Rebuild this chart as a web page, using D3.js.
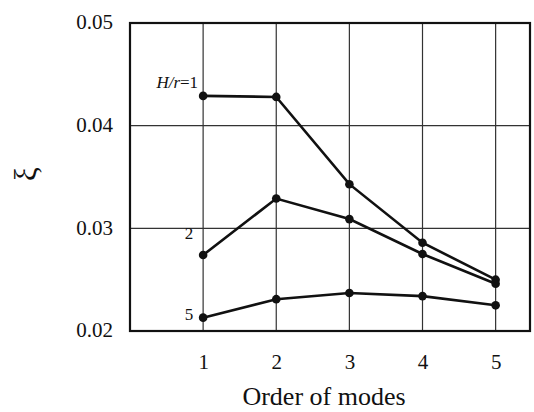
<!DOCTYPE html>
<html>
<head>
<meta charset="utf-8">
<script src="https://cdn.jsdelivr.net/npm/d3@7"></script>
<style>
  body { margin: 0; background: #fff; }
  text { font-family: "Liberation Serif", "Times New Roman", serif; fill: #111; }
</style>
</head>
<body>
<svg id="chart" width="534" height="412"></svg>
<script>
// modes on the x axis
var modes = [1, 2, 3, 4, 5];
// damping ratio for each H/r
var dampHr1 = [0.0429, 0.0428, 0.0343, 0.0286, 0.0250];
var dampHr2 = [0.0274, 0.0329, 0.0309, 0.0275, 0.0246];
var dampHr5 = [0.0213, 0.0231, 0.0237, 0.0234, 0.0225];
var seriesLabels = ["H/r=1", "2", "5"];
var yTicks = [0.02, 0.03, 0.04, 0.05];

var svg = d3.select("#chart");
var mLeft = 130, mRight = 530, mTop = 23, mBottom = 331;

var x = d3.scaleLinear().domain([0, 5.47]).range([mLeft, mRight]);
var y = d3.scaleLinear().domain([0.02, 0.05]).range([mBottom, mTop]);

// grid
svg.append("g").selectAll("line").data(modes).enter().append("line")
    .attr("x1", function (d) { return x(d); }).attr("x2", function (d) { return x(d); })
    .attr("y1", mTop).attr("y2", mBottom)
    .attr("stroke", "#333").attr("stroke-width", 1.2);
svg.append("g").selectAll("line").data(yTicks.slice(1, 3)).enter().append("line")
    .attr("x1", mLeft).attr("x2", mRight)
    .attr("y1", function (d) { return y(d); }).attr("y2", function (d) { return y(d); })
    .attr("stroke", "#333").attr("stroke-width", 1.2);

// frame
svg.append("rect")
    .attr("x", mLeft).attr("y", mTop)
    .attr("width", mRight - mLeft).attr("height", mBottom - mTop)
    .attr("fill", "none").attr("stroke", "#111").attr("stroke-width", 2.2);

// axes (labels only, lines drawn by the frame)
var yAxis = d3.axisLeft(y).tickValues(yTicks).tickSize(0).tickPadding(17)
    .tickFormat(d3.format(".2f"));
var gy = svg.append("g").attr("transform", "translate(" + mLeft + ",0)").call(yAxis);
gy.select(".domain").remove();
gy.selectAll("text").style("font-size", "21px").style("font-family", "Liberation Serif")
    .attr("dy", "0.28em");

var xAxis = d3.axisBottom(x).tickValues(modes).tickSize(0).tickPadding(23)
    .tickFormat(d3.format("d"));
var gx = svg.append("g").attr("transform", "translate(0," + mBottom + ")").call(xAxis);
gx.select(".domain").remove();
gx.selectAll("text").style("font-size", "21px").style("font-family", "Liberation Serif");

// lines + points
var line = d3.line()
    .x(function (d, i) { return x(modes[i]); })
    .y(function (d) { return y(d); });

[dampHr1, dampHr2, dampHr5].forEach(function (s) {
    svg.append("path").datum(s).attr("d", line)
        .attr("fill", "none").attr("stroke", "#111").attr("stroke-width", 2.6);
    svg.append("g").selectAll("circle").data(s).enter().append("circle")
        .attr("cx", function (d, i) { return x(modes[i]); })
        .attr("cy", function (d) { return y(d); })
        .attr("r", 4.3).attr("fill", "#111");
});

// series labels
var lab1 = svg.append("text").attr("x", x(1) - 5).attr("y", y(dampHr1[0]) - 8)
    .attr("text-anchor", "end").style("font-size", "17px");
lab1.append("tspan").style("font-style", "italic").text(seriesLabels[0].slice(0, 3));
lab1.append("tspan").text(seriesLabels[0].slice(3));

svg.append("text").attr("x", x(1) - 10).attr("y", y(dampHr2[0]) - 16)
    .attr("text-anchor", "end").style("font-size", "17px").text(seriesLabels[1]);
svg.append("text").attr("x", x(1) - 10).attr("y", y(dampHr5[0]) + 2)
    .attr("text-anchor", "end").style("font-size", "17px").text(seriesLabels[2]);

// axis titles
svg.append("text").attr("x", 324).attr("y", 405)
    .attr("text-anchor", "middle").style("font-size", "26px").text("Order of modes");
svg.append("text").attr("transform", "translate(36,174) rotate(-90)")
    .attr("text-anchor", "middle").style("font-size", "31px")
    .text("ξ");
</script>
</body>
</html>
